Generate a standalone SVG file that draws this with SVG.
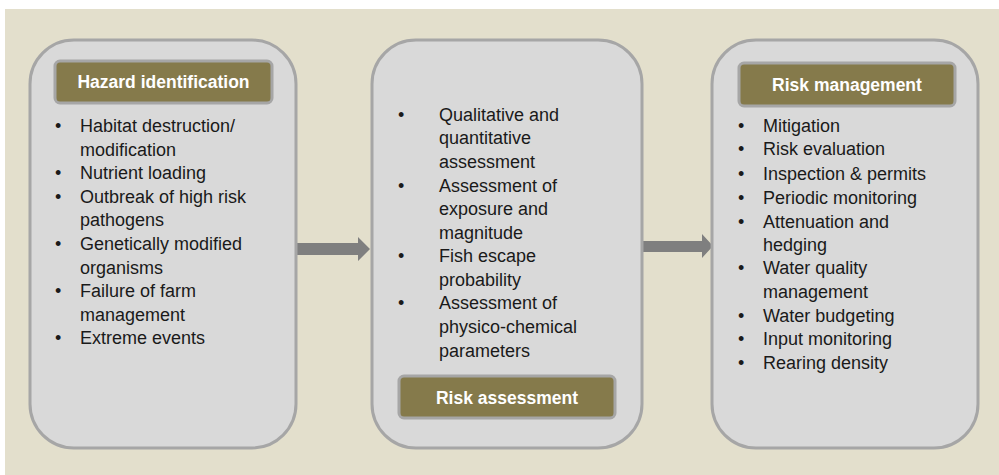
<svg xmlns="http://www.w3.org/2000/svg" width="999" height="475" viewBox="0 0 999 475">
<style>
.panel{fill:#d9d9d9;stroke:#a6a6a6;stroke-width:3}
.title{fill:#857a4b;stroke:#a6a6a6;stroke-width:3}
.tt{font-family:"Liberation Sans",Arial,sans-serif;font-size:17.5px;font-weight:bold;fill:#ffffff;text-anchor:middle}
.bt{font-family:"Liberation Sans",Arial,sans-serif;font-size:18px;fill:#1a1a1a}
.arrow{fill:#7f7f7f}
</style>
<rect x="0" y="0" width="999" height="475" fill="#ffffff"/>
<rect x="5" y="9" width="994" height="466" fill="#e3dfcc"/>
<g id="connectors">
<polygon class="arrow" points="295,243 358,243 358,237 370,249 358,261 358,255 295,255"/>
<polygon class="arrow" points="643,241 702,241 702,234 713,246 702,258 702,252 643,252"/>
</g>
<g id="hazard">
<rect class="panel" x="30" y="40" width="266" height="408" rx="44" ry="44"/>
<rect class="title" x="55" y="61" width="217" height="42" rx="5" ry="5"/>
<text class="tt" x="163.5" y="88">Hazard identification</text>
<g class="bt">
<text x="55" y="132">•</text><text x="80" y="132">Habitat destruction/</text>
<text x="80" y="155.5">modification</text>
<text x="55" y="179">•</text><text x="80" y="179">Nutrient loading</text>
<text x="55" y="202.5">•</text><text x="80" y="202.5">Outbreak of high risk</text>
<text x="80" y="226">pathogens</text>
<text x="55" y="250">•</text><text x="80" y="250">Genetically modified</text>
<text x="80" y="273.5">organisms</text>
<text x="55" y="297">•</text><text x="80" y="297">Failure of farm</text>
<text x="80" y="320.5">management</text>
<text x="55" y="344">•</text><text x="80" y="344">Extreme events</text>
</g>
</g>
<g id="assessment">
<rect class="panel" x="372" y="40" width="270" height="408" rx="44" ry="44"/>
<g class="bt">
<text x="398" y="121">•</text><text x="439" y="121">Qualitative and</text>
<text x="439" y="144">quantitative</text>
<text x="439" y="167.5">assessment</text>
<text x="398" y="191.5">•</text><text x="439" y="191.5">Assessment of</text>
<text x="439" y="215">exposure and</text>
<text x="439" y="238.5">magnitude</text>
<text x="398" y="262">•</text><text x="439" y="262">Fish escape</text>
<text x="439" y="285.5">probability</text>
<text x="398" y="309">•</text><text x="439" y="309">Assessment of</text>
<text x="439" y="333">physico-chemical</text>
<text x="439" y="357">parameters</text>
</g>
<rect class="title" x="399" y="376" width="216" height="42" rx="5" ry="5"/>
<text class="tt" x="507" y="403.5">Risk assessment</text>
</g>
<g id="management">
<rect class="panel" x="712" y="40" width="266" height="408" rx="44" ry="44"/>
<rect class="title" x="739" y="63" width="216" height="43" rx="5" ry="5"/>
<text class="tt" x="847" y="91">Risk management</text>
<g class="bt">
<text x="738" y="132">•</text><text x="763" y="132">Mitigation</text>
<text x="738" y="155">•</text><text x="763" y="155">Risk evaluation</text>
<text x="738" y="180">•</text><text x="763" y="180">Inspection &amp; permits</text>
<text x="738" y="203.5">•</text><text x="763" y="203.5">Periodic monitoring</text>
<text x="738" y="227.5">•</text><text x="763" y="227.5">Attenuation and</text>
<text x="763" y="250.5">hedging</text>
<text x="738" y="274">•</text><text x="763" y="274">Water quality</text>
<text x="763" y="297.5">management</text>
<text x="738" y="321.5">•</text><text x="763" y="321.5">Water budgeting</text>
<text x="738" y="345">•</text><text x="763" y="345">Input monitoring</text>
<text x="738" y="368.5">•</text><text x="763" y="368.5">Rearing density</text>
</g>
</g>
</svg>
